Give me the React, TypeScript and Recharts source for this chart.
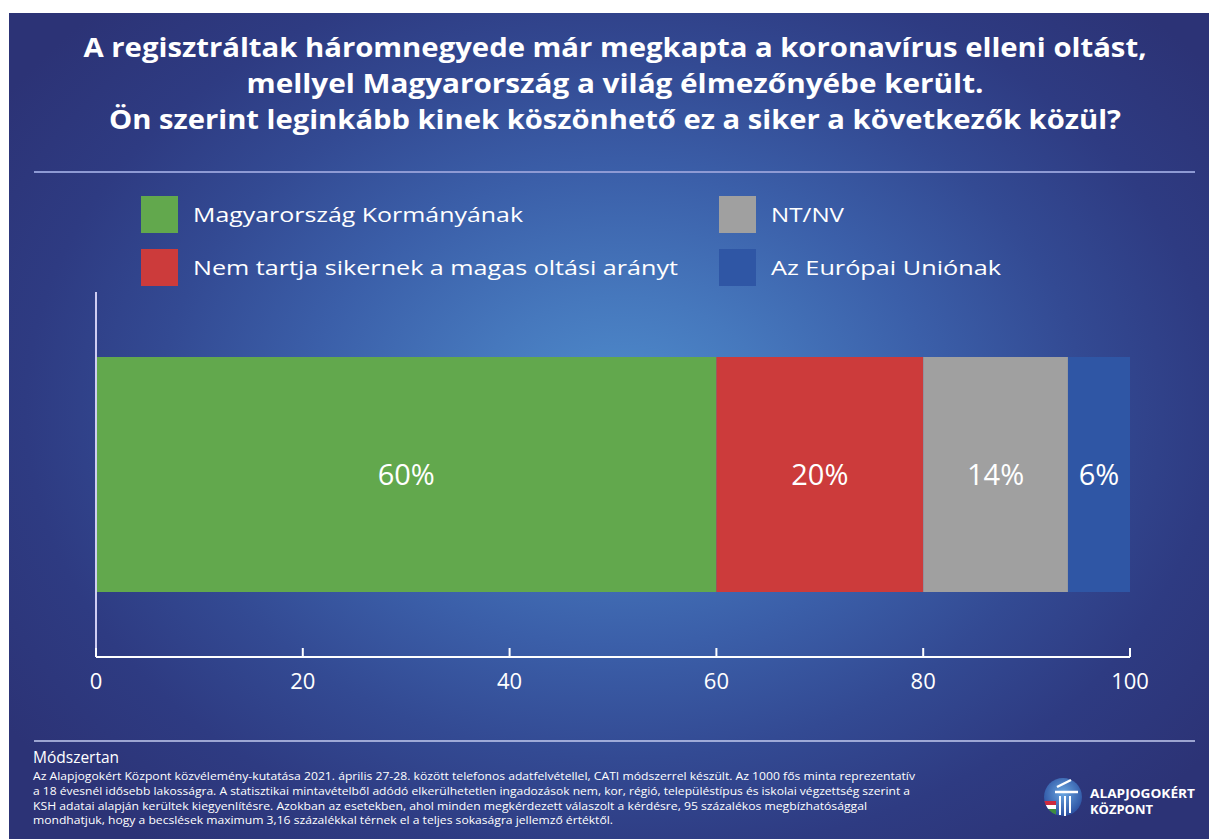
import React from 'react';
import { BarChart, Bar, XAxis, YAxis, LabelList } from 'recharts';

const categories = ['Válaszok'];
const seriesKeys = ['kormany', 'nemSiker', 'ntnv', 'eu'];
const seriesNames = [
  'Magyarország Kormányának',
  'Nem tartja sikernek a magas oltási arányt',
  'NT/NV',
  'Az Európai Uniónak',
];
const seriesValues = [60, 20, 14, 6];
const seriesColors = ['#62a84d', '#cc3b3b', '#a0a0a0', '#2f56a5'];
const xTicks = [0, 20, 40, 60, 80, 100];

const titleLines = [
  'A regisztráltak háromnegyede már megkapta a koronavírus elleni oltást,',
  'mellyel Magyarország a világ élmezőnyébe került.',
  'Ön szerint leginkább kinek köszönhető ez a siker a következők közül?',
];
const methodTitle = 'Módszertan';
const methodLines = [
  'Az Alapjogokért Központ közvélemény-kutatása 2021. április 27-28. között telefonos adatfelvétellel, CATI módszerrel készült. Az 1000 fős minta reprezentatív',
  'a 18 évesnél idősebb lakosságra. A statisztikai mintavételből adódó elkerülhetetlen ingadozások nem, kor, régió, településtípus és iskolai végzettség szerint a',
  'KSH adatai alapján kerültek kiegyenlítésre. Azokban az esetekben, ahol minden megkérdezett válaszolt a kérdésre, 95 százalékos megbízhatósággal',
  'mondhatjuk, hogy a becslések maximum 3,16 százalékkal térnek el a teljes sokaságra jellemző értéktől.',
];
const logoLines = ['ALAPJOGOKÉRT', 'KÖZPONT'];

const data = categories.map((name) => {
  const row: Record<string, string | number> = { name };
  seriesKeys.forEach((k, i) => {
    row[k] = seriesValues[i];
  });
  return row;
});

const FONT = '"Open Sans", "DejaVu Sans", sans-serif';

// layout constants (styling, not data)
const titleLayout = [
  { y: 57, len: 1063 },
  { y: 93, len: 737 },
  { y: 129, len: 1012 },
];
const legendPos = [
  { x: 141, y: 196, len: 330 },
  { x: 141, y: 249, len: 485 },
  { x: 719, y: 196, len: 73 },
  { x: 719, y: 249, len: 230 },
];
const methodLayout = [
  { y: 780, len: 882 },
  { y: 795, len: 877 },
  { y: 809.5, len: 834 },
  { y: 824, len: 580 },
];

const XTick = (props: any) => {
  const { x, y, payload } = props;
  return (
    <g>
      <line x1={x} x2={x} y1={y} y2={y - 9} stroke="#ffffff" strokeWidth={2} />
      <text
        x={x}
        y={y + 32}
        textAnchor="middle"
        fill="#ffffff"
        fontSize={22}
        fontFamily={FONT}
        fontWeight={400}
      >
        {payload.value}
      </text>
    </g>
  );
};

const BarLabel = (props: any) => {
  const { x, y, width, height, value } = props;
  return (
    <text
      x={x + width / 2}
      y={y + height / 2 + 10}
      textAnchor="middle"
      fill="#ffffff"
      fontSize={29}
      fontFamily={FONT}
      fontWeight={400}
    >
      {`${value}%`}
    </text>
  );
};

export default function App() {
  return (
    <div
      style={{
        position: 'absolute',
        left: 0,
        top: 0,
        width: 1209,
        height: 839,
        background: '#ffffff',
        overflow: 'hidden',
      }}
    >
      <div
        style={{
          position: 'absolute',
          left: 9,
          top: 13,
          width: 1200,
          height: 826,
          background:
            'radial-gradient(ellipse 62% 68% at 51% 48%, #4f8dcd 0%, #4678bd 20%, #3b5fa9 42%, #334a93 62%, #2e3b82 80%, #2c3376 100%)',
        }}
      />
      <div style={{ position: 'absolute', left: 0, top: 0 }}>
        <BarChart
          width={1209}
          height={839}
          data={data}
          layout="vertical"
          margin={{ top: 292, right: 79, bottom: 142, left: 90 }}
          barSize={235}
        >
          <XAxis
            type="number"
            domain={[0, 100]}
            ticks={xTicks}
            height={40}
            tickSize={0}
            tickMargin={0}
            tickLine={false}
            axisLine={{ stroke: '#ffffff', strokeWidth: 2 }}
            tick={<XTick />}
            interval={0}
          />
          <YAxis
            type="category"
            dataKey="name"
            width={6}
            tick={false}
            tickLine={false}
            axisLine={{ stroke: '#cfcdf2', strokeWidth: 2 }}
          />
          {seriesKeys.map((k, i) => (
            <Bar
              key={k}
              dataKey={k}
              name={seriesNames[i]}
              stackId="a"
              fill={seriesColors[i]}
              isAnimationActive={false}
            >
              <LabelList dataKey={k} content={<BarLabel />} />
            </Bar>
          ))}
        </BarChart>
      </div>
      <svg
        width={1209}
        height={839}
        style={{ position: 'absolute', left: 0, top: 0, pointerEvents: 'none' }}
      >
        <defs>
          <radialGradient id="logoGrad" cx="50%" cy="40%" r="60%">
            <stop offset="0%" stopColor="#6aa6e0" />
            <stop offset="100%" stopColor="#2a4fa0" />
          </radialGradient>
          <clipPath id="logoClip">
            <circle cx={1063} cy={797} r={19} />
          </clipPath>
        </defs>
        {titleLines.map((t, i) => (
          <text
            key={i}
            x={615}
            y={titleLayout[i].y}
            textAnchor="middle"
            fill="#ffffff"
            fontSize={27}
            fontWeight={700}
            fontFamily={FONT}
            textLength={titleLayout[i].len}
            lengthAdjust="spacingAndGlyphs"
          >
            {t}
          </text>
        ))}
        <line x1={34} x2={1195} y1={172} y2={172} stroke="#8e9ad4" strokeWidth={2} />
        {seriesNames.map((n, i) => (
          <g key={n}>
            <rect
              x={legendPos[i].x}
              y={legendPos[i].y}
              width={37}
              height={37}
              fill={seriesColors[i]}
            />
            <text
              x={legendPos[i].x + 52}
              y={legendPos[i].y + 25.5}
              fill="#ffffff"
              fontSize={20}
              fontFamily={FONT}
              textLength={legendPos[i].len}
              lengthAdjust="spacingAndGlyphs"
            >
              {n}
            </text>
          </g>
        ))}
        <line x1={34} x2={1195} y1={741} y2={741} stroke="#c3cbef" strokeWidth={1.5} />
        <text x={33} y={763} fill="#ffffff" fontSize={15.5} fontFamily={FONT}>
          {methodTitle}
        </text>
        {methodLines.map((t, i) => (
          <text
            key={i}
            x={33}
            y={methodLayout[i].y}
            fill="#ffffff"
            fontSize={10}
            fontFamily={FONT}
            textLength={methodLayout[i].len}
            lengthAdjust="spacingAndGlyphs"
          >
            {t}
          </text>
        ))}
        <g>
          <circle cx={1063} cy={797} r={19} fill="url(#logoGrad)" />
          <g clipPath="url(#logoClip)">
            <rect x={1044} y={801} width={12} height={4} fill="#cd2a3e" />
            <rect x={1044} y={805} width={12} height={4} fill="#ffffff" />
            <rect x={1044} y={809} width={12} height={8} fill="#3f8b3f" />
          </g>
          <path d="M1057 787 L1071 780" stroke="#fff" strokeWidth={2.5} fill="none" />
          <path d="M1055 792 L1078 792" stroke="#fff" strokeWidth={2.5} fill="none" />
          <line x1={1060} x2={1060} y1={796} y2={815} stroke="#fff" strokeWidth={2} />
          <line x1={1065} x2={1065} y1={796} y2={816} stroke="#fff" strokeWidth={2} />
          <line x1={1070} x2={1070} y1={796} y2={813} stroke="#fff" strokeWidth={2} />
          <text
            x={1090}
            y={798}
            fill="#ffffff"
            fontSize={12.5}
            fontWeight={700}
            fontFamily={FONT}
            textLength={105}
            lengthAdjust="spacingAndGlyphs"
          >
            {logoLines[0]}
          </text>
          <text
            x={1090}
            y={814}
            fill="#ffffff"
            fontSize={12.5}
            fontWeight={700}
            fontFamily={FONT}
            textLength={63}
            lengthAdjust="spacingAndGlyphs"
          >
            {logoLines[1]}
          </text>
        </g>
      </svg>
    </div>
  );
}
